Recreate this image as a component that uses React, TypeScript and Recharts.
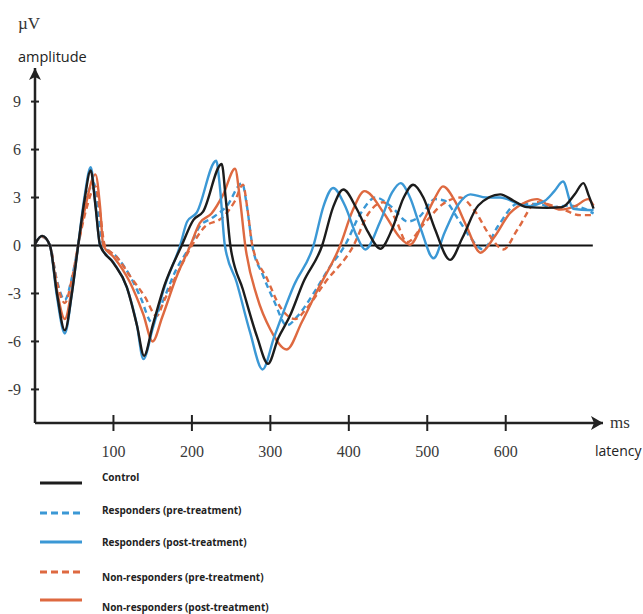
import { LineChart, Line, XAxis, YAxis, ReferenceLine, Legend } from "recharts";

// latency (ms) / amplitude (µV) pairs
const control: [number, number][] = [
  [0, 0.1], [9, 0.6], [19, 0], [28, -3.0], [38, -5.3], [47, -3.0], [55, 0], [63, 2.8], [71, 4.7],
  [77, 2.5], [83, 0], [100, -1.1], [117, -2.6], [130, -5.0], [139, -6.9], [150, -5.0], [165, -2.5],
  [187, 0], [202, 1.6], [214, 2.1], [238, 5.1], [243, 3.0], [249, 0], [265, -2.75], [283, -5.7],
  [297, -7.4], [310, -5.8], [325, -4.4], [342, -2.3], [366, 0], [380, 2.4], [393, 3.5], [410, 2.3],
  [425, 0.8], [440, -0.2], [455, 1.0], [470, 3.0], [482, 3.8], [495, 3.0], [510, 1.0], [529, -0.9],
  [545, 0.5], [565, 2.5], [593, 3.2], [610, 2.8], [627, 2.4], [653, 2.35], [672, 2.4], [688, 3.2],
  [699, 3.9], [706, 3.1], [712, 2.3],
];
const respondersPost: [number, number][] = [
  [0, 0.1], [9, 0.6], [19, 0], [28, -3.2], [38, -5.5], [47, -3.0], [55, 0], [63, 3.0], [71, 4.9],
  [77, 2.6], [83, 0], [100, -1.06], [117, -2.6], [130, -5.0], [138, -7.1], [150, -5.2], [165, -2.6],
  [185, 0], [194, 1.5], [206, 2.05], [231, 5.3], [236, 3.5], [242, 0], [257, -2.3], [274, -5.4],
  [290, -7.75], [305, -5.7], [330, -2.5], [355, 0], [368, 2.5], [380, 3.6], [395, 2.5], [410, 0.6],
  [421, -0.25], [440, 1.5], [455, 3.3], [466, 3.9], [478, 3.0], [492, 1.0], [508, -0.8], [522, 0.8],
  [540, 2.6], [555, 3.2], [575, 3.0], [593, 3.0], [627, 2.45], [650, 2.8], [662, 3.4], [673, 4.0],
  [686, 2.3], [712, 2.2],
];
const respondersPre: [number, number][] = [
  [0, 0.1], [9, 0.55], [19, 0], [28, -2.2], [38, -3.4], [47, -2.0], [55, 0], [63, 2.4], [75, 3.9],
  [81, 2.0], [87, 0], [104, -0.7], [121, -1.9], [135, -3.3], [149, -4.8], [160, -3.8], [180, -1.5],
  [198, 0], [210, 1.2], [225, 1.7], [245, 2.5], [264, 3.9], [270, 2.5], [277, 0], [290, -1.8],
  [305, -3.5], [321, -5.0], [335, -4.4], [355, -3.0], [375, -1.4], [395, 0], [415, 2.0], [434, 3.0],
  [455, 2.4], [475, 1.5], [490, 1.8], [510, 2.9], [522, 2.8], [540, 1.6], [555, 0.5], [571, -0.25],
  [590, 1.2], [615, 2.6], [640, 2.6], [660, 2.4], [680, 2.5], [700, 2.3], [712, 2.0],
];
const nonRespondersPost: [number, number][] = [
  [0, 0.1], [9, 0.6], [19, 0], [28, -2.8], [38, -4.6], [47, -2.7], [55, 0], [65, 2.6], [77, 4.45],
  [83, 2.4], [87, 0], [100, -0.7], [121, -2.3], [138, -4.3], [150, -6.0], [162, -4.5], [180, -2.0],
  [198, 0], [210, 1.4], [225, 2.0], [240, 3.2], [255, 4.8], [261, 3.0], [268, 0], [283, -3.2],
  [300, -5.25], [321, -6.5], [340, -4.8], [360, -2.8], [389, 0], [405, 2.2], [420, 3.4], [445, 2.0],
  [465, 0.5], [478, 0.05], [495, 1.5], [510, 3.0], [520, 3.7], [535, 2.8], [550, 1.2], [568, -0.45],
  [585, 0.5], [605, 2.0], [625, 2.7], [640, 2.9], [655, 2.5], [670, 2.25], [690, 2.5], [705, 2.9],
  [712, 2.5],
];
const nonRespondersPre: [number, number][] = [
  [0, 0.1], [9, 0.55], [19, 0], [28, -2.3], [38, -3.6], [47, -2.1], [55, 0], [65, 2.2], [77, 3.7],
  [83, 2.0], [89, 0], [104, -0.7], [121, -1.9], [140, -3.2], [155, -4.4], [165, -3.4], [185, -1.4],
  [200, 0], [215, 1.1], [240, 1.8], [255, 2.8], [265, 3.8], [271, 2.2], [277, 0], [296, -2.1],
  [312, -3.8], [332, -4.6], [345, -4.0], [370, -2.3], [406, 0], [425, 2.0], [444, 2.7], [460, 1.6],
  [474, 0.2], [495, 1.3], [520, 2.6], [542, 3.0], [560, 2.2], [580, 0.6], [597, -0.25], [615, 1.0],
  [640, 2.7], [666, 2.4], [695, 1.9], [712, 1.9],
];

const xTicks = [100, 200, 300, 400, 500, 600];
const yTicks = [-9, -6, -3, 0, 3, 6, 9];

const BLACK = "#1c1c1c";
const BLUE = "#3b98d5";
const ORANGE = "#de6940";
const AXIS = "#222";

const series = [
  { key: "control", name: "Control", data: control, color: BLACK, dash: undefined },
  { key: "rPre", name: "Responders (pre-treatment)", data: respondersPre, color: BLUE, dash: "6 4" },
  { key: "rPost", name: "Responders (post-treatment)", data: respondersPost, color: BLUE, dash: undefined },
  { key: "nPre", name: "Non-responders (pre-treatment)", data: nonRespondersPre, color: ORANGE, dash: "6 4" },
  { key: "nPost", name: "Non-responders (post-treatment)", data: nonRespondersPost, color: ORANGE, dash: undefined },
];
const drawOrder = ["rPre", "nPre", "nPost", "rPost", "control"];

const toPoints = (pts: [number, number][]) => pts.map(([t, v]) => ({ t, v }));

const serif = "'Liberation Serif', 'Times New Roman', serif";
const sans = "'Open Sans', 'Liberation Sans', sans-serif";

function YTick(props: any) {
  const { x, y, payload } = props;
  return (
    <g>
      <line x1={x - 4} x2={x + 4} y1={y} y2={y} stroke={AXIS} strokeWidth={2} />
      <text x={x - 14} y={y} dy={5.5} textAnchor="end" fontFamily={serif} fontSize={16} fill="#3a3a3a">
        {payload.value}
      </text>
    </g>
  );
}

function XTick(props: any) {
  const { x, y, payload } = props;
  return (
    <g>
      <line x1={x} x2={x} y1={y - 8} y2={y + 8} stroke={AXIS} strokeWidth={2} />
      <text x={x} y={y + 34} textAnchor="middle" fontFamily={serif} fontSize={16} fill="#3a3a3a">
        {payload.value}
      </text>
    </g>
  );
}

function YLabel(props: any) {
  const { viewBox } = props;
  const ax = viewBox.x + viewBox.width;
  const top = viewBox.y;
  return (
    <g>
      <polygon points={`${ax},${top} ${ax - 6},${top + 12} ${ax},${top + 9} ${ax + 6},${top + 12}`} fill={AXIS} />
      <text x={18} y={29} fontFamily={serif} fontSize={17} fill="#333">µV</text>
      <text x={18} y={62} fontFamily={sans} fontSize={14.5} fill="#222">amplitude</text>
    </g>
  );
}

function XLabel(props: any) {
  const { viewBox } = props;
  const end = viewBox.x + viewBox.width;
  const ay = viewBox.y;
  return (
    <g>
      <polygon points={`${end},${ay} ${end - 12},${ay - 7} ${end - 9},${ay} ${end - 12},${ay + 7}`} fill={AXIS} />
      <text x={end + 7} y={ay + 5} fontFamily={serif} fontSize={17} fill="#333">ms</text>
      <text x={end - 8} y={ay + 33} fontFamily={sans} fontSize={14} fill="#222">latency</text>
    </g>
  );
}

// row positions of the legend: line y, text y
const legendLineY = [23, 53, 82, 112, 140];
const legendTextY = [17, 50, 82, 117, 147];

function LegendBox() {
  return (
    <svg width={320} height={154}>
      {series.map((s, i) => (
        <g key={s.key}>
          <line
            x1={40}
            x2={82}
            y1={legendLineY[i]}
            y2={legendLineY[i]}
            stroke={s.color}
            strokeWidth={3}
            strokeDasharray={s.dash ? "7 4" : undefined}
          />
          <text
            x={102}
            y={legendTextY[i]}
            dy={3.5}
            fontFamily={sans}
            fontSize={10}
            fontWeight={700}
            fill="#222"
          >
            {s.name}
          </text>
        </g>
      ))}
    </svg>
  );
}

export default function App() {
  return (
    <div style={{ width: 643, height: 614, position: "relative", background: "#fff" }}>
      <style>{`body{margin:0}`}</style>
      <LineChart width={643} height={614} margin={{ top: 68, right: 40, bottom: 0, left: 0 }}>
        <XAxis
          type="number"
          dataKey="t"
          domain={[0, 724]}
          ticks={xTicks}
          height={191}
          tickSize={0}
          tickMargin={0}
          tickLine={false}
          tick={<XTick />}
          axisLine={{ stroke: AXIS, strokeWidth: 2.5 }}
          label={<XLabel />}
          allowDataOverflow
        />
        <YAxis
          type="number"
          domain={[-11.1, 11.1]}
          ticks={yTicks}
          width={35}
          tickSize={0}
          tickMargin={0}
          tickLine={false}
          tick={<YTick />}
          axisLine={{ stroke: AXIS, strokeWidth: 2.5 }}
          label={<YLabel />}
          allowDataOverflow
        />
        <ReferenceLine
          segment={[{ x: 0, y: 0 }, { x: 711, y: 0 }]}
          stroke="#111"
          strokeWidth={2}
        />
        {drawOrder.map((k) => {
          const s = series.find((d) => d.key === k)!;
          return (
            <Line
              key={s.key}
              data={toPoints(s.data)}
              dataKey="v"
              name={s.name}
              type="monotone"
              stroke={s.color}
              strokeWidth={2.4}
              strokeDasharray={s.dash}
              dot={false}
              activeDot={false}
              isAnimationActive={false}
            />
          );
        })}
        <Legend
          layout="horizontal"
          verticalAlign="middle"
          align="center"
          content={() => <LegendBox />}
          wrapperStyle={{ left: 0, top: 460, width: 320, height: 154 }}
        />
      </LineChart>
    </div>
  );
}
